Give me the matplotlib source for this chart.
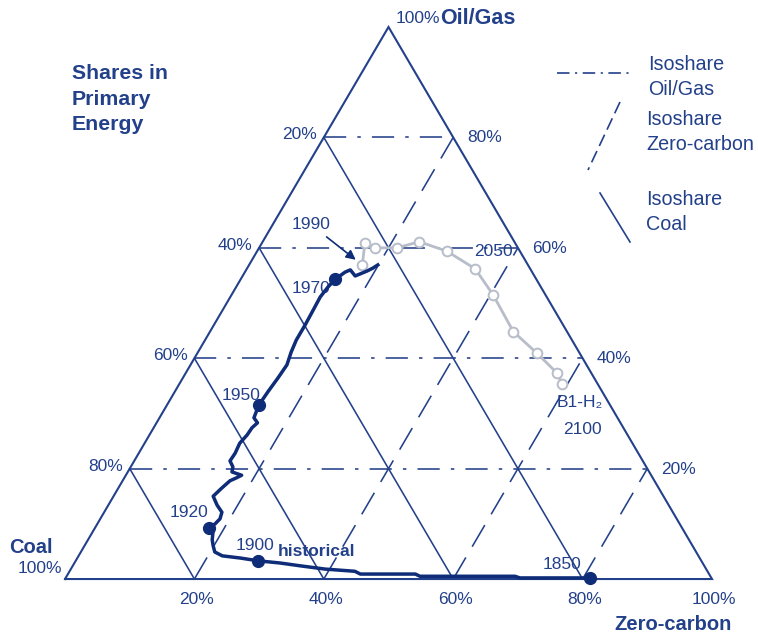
import matplotlib
matplotlib.use('Agg')
from matplotlib import pyplot as plt
import numpy as np

plt.rcParams['font.family'] = ['Liberation Sans', 'DejaVu Sans']
plt.rcParams['lines.scale_dashes'] = False

NAVY = '#23408a'
PATH = '#0e2c78'
GREY = '#b8bdca'

# Historical path 1850 -> 1990, shares in primary energy
hist_coal = [0.188, 0.296, 0.302, 0.449, 0.454, 0.539, 0.545, 0.589, 0.625, 0.653,
             0.685, 0.710, 0.736, 0.744, 0.741, 0.737, 0.730, 0.732, 0.718, 0.706,
             0.697, 0.698, 0.696, 0.675, 0.656, 0.644, 0.633, 0.645, 0.639, 0.638,
             0.623, 0.607, 0.588, 0.574, 0.561, 0.562, 0.543, 0.517, 0.489, 0.463,
             0.445, 0.426, 0.399, 0.373, 0.350, 0.329, 0.311, 0.289, 0.279, 0.277,
             0.254, 0.243, 0.232]
hist_oil = [0.002, 0.002, 0.005, 0.005, 0.009, 0.009, 0.014, 0.018, 0.024, 0.029,
            0.033, 0.038, 0.042, 0.049, 0.060, 0.071, 0.083, 0.092, 0.100, 0.109,
            0.121, 0.134, 0.150, 0.165, 0.178, 0.183, 0.188, 0.194, 0.203, 0.214,
            0.228, 0.246, 0.261, 0.274, 0.283, 0.292, 0.315, 0.339, 0.364, 0.388,
            0.411, 0.433, 0.460, 0.487, 0.511, 0.529, 0.543, 0.556, 0.560, 0.549,
            0.558, 0.563, 0.569]
hist_zero = [0.810, 0.702, 0.693, 0.546, 0.537, 0.452, 0.441, 0.393, 0.351, 0.318,
             0.282, 0.252, 0.222, 0.207, 0.199, 0.192, 0.187, 0.176, 0.182, 0.185,
             0.182, 0.168, 0.154, 0.160, 0.166, 0.173, 0.179, 0.161, 0.158, 0.148,
             0.149, 0.147, 0.151, 0.152, 0.156, 0.146, 0.142, 0.144, 0.147, 0.149,
             0.144, 0.141, 0.141, 0.140, 0.139, 0.142, 0.146, 0.155, 0.161, 0.174,
             0.188, 0.194, 0.199]
# milestone years marked with a dot (index into the arrays above)
mark_years = ['1850', '1900', '1920', '1950', '1970']
mark_idx = [0, 10, 17, 36, 46]

# B1-H2 scenario, 1990 -> 2100 by decade
scen_years = list(range(1990, 2101, 10))
scen_coal = [0.256, 0.232, 0.221, 0.187, 0.147, 0.113, 0.085, 0.081, 0.083, 0.066, 0.053, 0.055]
scen_oil = [0.569, 0.609, 0.600, 0.600, 0.611, 0.594, 0.562, 0.515, 0.448, 0.409, 0.373, 0.353]
scen_zero = [0.175, 0.159, 0.179, 0.213, 0.242, 0.293, 0.353, 0.404, 0.469, 0.525, 0.574, 0.592]

iso_levels = [0.2, 0.4, 0.6, 0.8]

DASHDOT = (0, (16, 8, 2.5, 8))
DASHED = (0, (18, 9))


def tern(oil, zero):
    # ternary -> cartesian, coal at (0,0), zero-carbon at (1,0), oil/gas on top
    oil = np.asarray(oil, dtype=float)
    zero = np.asarray(zero, dtype=float)
    return zero + oil / 2, oil


fig = plt.figure(figsize=(7.58, 6.35), dpi=100)
ax = fig.add_axes([0, 0, 1, 1])
ax.set_xlim(-0.1005, 1.0711)
ax.set_ylim(-0.1014, 1.0489)
ax.axis('off')

# isoshare grid
for v in iso_levels:
    x, y = tern([v, v], [0, 1 - v])
    ax.plot(x, y, color=NAVY, lw=1.15, ls=DASHDOT, zorder=1)
    x, y = tern([0, 1 - v], [v, v])
    ax.plot(x, y, color=NAVY, lw=1.15, ls=DASHED, zorder=1)
    x, y = tern([0, 1 - v], [1 - v, 0])
    ax.plot(x, y, color=NAVY, lw=1.15, zorder=1)

x, y = tern([0, 1, 0, 0], [0, 0, 1, 0])
ax.plot(x, y, color=NAVY, lw=1.5, zorder=2, solid_joinstyle='miter')

# axis percentages
txt = dict(color=NAVY, fontsize=12.5)
for v in iso_levels:
    lab = '%d%%' % round(v * 100)
    x, y = tern(1 - v, 0)
    ax.annotate(lab, (x, y), xytext=(-7, -2), textcoords='offset pixels',
                ha='right', va='baseline', **txt)
    x, y = tern(v, 1 - v)
    ax.annotate(lab, (x, y), xytext=(14, -5), textcoords='offset pixels',
                ha='left', va='baseline', **txt)
for v in iso_levels + [1.0]:
    x, y = tern(0, v)
    ax.annotate('%d%%' % round(v * 100), (x, y), xytext=(2, -20),
                textcoords='offset pixels', ha='center', va='center', **txt)

# corner labels
bold = dict(color=NAVY, fontsize=14.5, fontweight='bold')
x, y = tern(0, 0)
ax.annotate('100%', (x, y), xytext=(-3, 11), textcoords='offset pixels',
            ha='right', va='center', **txt)
ax.annotate('Coal', (x, y), xytext=(-12, 32), textcoords='offset pixels',
            ha='right', va='center', **bold)
x, y = tern(1, 0)
ax.annotate('100%', (x, y), xytext=(7, 8), textcoords='offset pixels',
            ha='left', va='center', **txt)
ax.annotate('Oil/Gas', (x, y), xytext=(52, 8), textcoords='offset pixels',
            ha='left', va='center', color=NAVY, fontsize=15.5, fontweight='bold')
x, y = tern(0, 1)
ax.annotate('Zero-carbon', (x, y), xytext=(20, -45), textcoords='offset pixels',
            ha='right', va='center', **bold)

# scenario
sx, sy = tern(scen_oil, scen_zero)
ax.plot(sx, sy, color=GREY, lw=2, marker='o', ms=7, mfc='white', mec=GREY,
        mew=1.4, zorder=3)

# historical
hx, hy = tern(hist_oil, hist_zero)
ax.plot(hx, hy, color=PATH, lw=2.5, zorder=4, solid_joinstyle='round')
ax.plot(hx[mark_idx], hy[mark_idx], 'o', color=PATH, ms=8.5, zorder=5)

mark_off = [(-28, 13), (-3, 15), (-20, 16), (-18, 10), (-24, -9)]
for lab, i, off in zip(mark_years, mark_idx, mark_off):
    ax.annotate(lab, (hx[i], hy[i]), xytext=off, textcoords='offset pixels',
                ha='center', va='center', **txt)
ax.annotate('historical', (hx[10], hy[10]), xytext=(58, 9), textcoords='offset pixels',
            ha='center', va='center', color=NAVY, fontsize=12.5, fontweight='bold')

i1990 = scen_years.index(1990)
ax.annotate('1990', (sx[i1990], sy[i1990]), xytext=(-51, 40), textcoords='offset pixels',
            ha='center', va='center',
            arrowprops=dict(arrowstyle='-|>', color=PATH, lw=1.2, mutation_scale=14,
                            shrinkA=2, shrinkB=6),
            **txt)
i2050 = scen_years.index(2050)
ax.annotate('2050', (sx[i2050], sy[i2050]), xytext=(18, 17), textcoords='offset pixels',
            ha='center', va='center', **txt)
i2100 = scen_years.index(2100)
ax.annotate('B1-H\u2082', (sx[i2100], sy[i2100]), xytext=(18, -18), textcoords='offset pixels',
            ha='center', va='center', **txt)
ax.annotate('2100', (sx[i2100], sy[i2100]), xytext=(20, -45), textcoords='offset pixels',
            ha='center', va='center', **txt)

# title
fig.text(72 / 758, 1 - 64 / 635, 'Shares in\nPrimary\nEnergy', ha='left', va='top',
         color=NAVY, fontsize=15.3, fontweight='bold', linespacing=1.45)


# legend drawn by hand (slanted keys)
def px(x, y):
    return x / 758, 1 - y / 635


for (p0, p1), dashes in [(((557, 73), (632, 73)), (0, (9, 4, 1.5, 4))),
                         (((620, 102), (588, 170)), (0, (9, 4))),
                         (((600, 193), (630, 242)), '-')]:
    a, b = px(*p0), px(*p1)
    fig.add_artist(plt.Line2D([a[0], b[0]], [a[1], b[1]], color=NAVY, lw=1.2,
                              ls=dashes, transform=fig.transFigure))
for (lx, ly), lab in [((648, 55), 'Isoshare\nOil/Gas'),
                      ((646, 110), 'Isoshare\nZero-carbon'),
                      ((646, 190), 'Isoshare\nCoal')]:
    x, y = px(lx, ly)
    fig.text(x, y, lab, ha='left', va='top', color=NAVY, fontsize=14.2, linespacing=1.4)

fig.savefig('out.png', dpi=100)
